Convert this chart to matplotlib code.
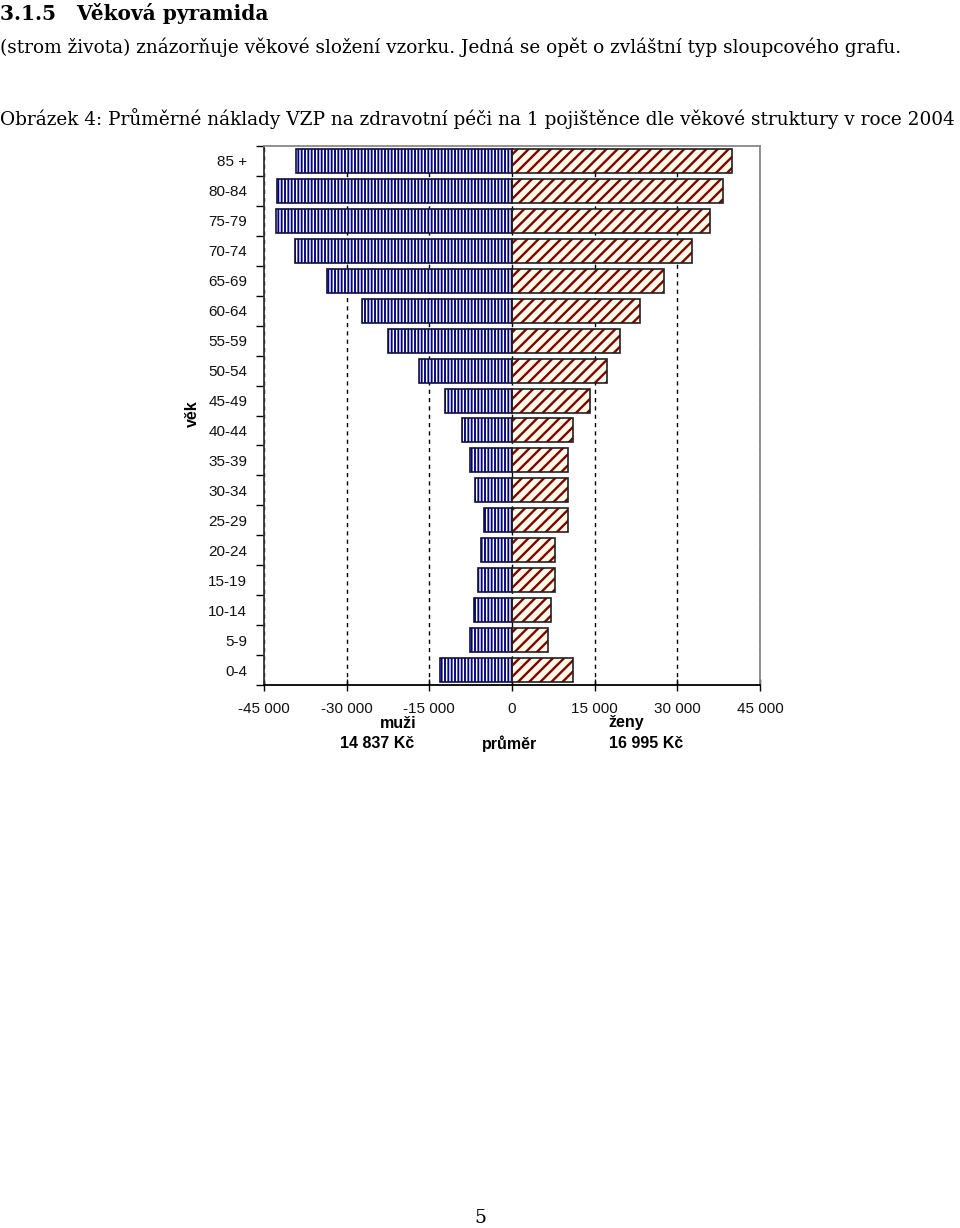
import matplotlib
matplotlib.use("Agg")
import matplotlib.pyplot as plt
from matplotlib.ticker import FixedLocator, FuncFormatter
import numpy as np

# age groups, bottom to top
age_groups = ["0-4", "5-9", "10-14", "15-19", "20-24", "25-29", "30-34", "35-39",
              "40-44", "45-49", "50-54", "55-59", "60-64", "65-69", "70-74",
              "75-79", "80-84", "85 +"]
# average cost per insured person (Kč)
men = [13100, 7600, 6900, 6200, 5600, 5100, 6700, 7600, 9100, 12200,
       16900, 22500, 27300, 33500, 39300, 42900, 42600, 39200]
women = [11100, 6500, 7100, 7800, 7800, 10200, 10200, 10200, 11100, 14200,
         17300, 19600, 23300, 27600, 32700, 36000, 38200, 40000]
x_ticks = [-45000, -30000, -15000, 0, 15000, 30000, 45000]
men_avg = "14 837 Kč"
women_avg = "16 995 Kč"

W, H = 960, 1228
fig = plt.figure(figsize=(W / 100, H / 100), dpi=100)


def px(x, y):
    return x / W, 1 - y / H


serif = ["DejaVu Serif"]
chart_font = ["Liberation Sans", "DejaVu Sans"]

# document text around the chart
fig.text(*px(0, 13), "3.1.5   Věková pyramida", fontsize=14.5, fontweight="bold",
         family=serif, va="center", ha="left")
fig.text(*px(0, 47), "(strom života) znázorňuje věkové složení vzorku. Jedná se opět o zvláštní typ sloupcového grafu.",
         fontsize=13.35, family=serif, va="center", ha="left")
fig.text(*px(0, 119), "Obrázek 4: Průměrné náklady VZP na zdravotní péči na 1 pojištěnce dle věkové struktury v roce 2004",
         fontsize=13.35, family=serif, va="center", ha="left")
fig.text(*px(480, 1218), "5", fontsize=13.5, family=serif, va="center", ha="center")

# chart
left, right, top, bottom = 264, 760, 146, 685
ax = fig.add_axes([left / W, 1 - bottom / H, (right - left) / W, (bottom - top) / H])

y = np.arange(len(age_groups))
neg_men = [-v for v in men]

plt.rcParams["hatch.linewidth"] = 1.35
ax.barh(y, neg_men, height=0.8, color="white", edgecolor="#000080",
        hatch="|||||", linewidth=0, zorder=3)
ax.barh(y, neg_men, height=0.8, color="none", edgecolor="#101040",
        linewidth=1.2, zorder=4)

plt.rcParams["hatch.linewidth"] = 1.7
ax.barh(y, women, height=0.8, color="#FFFBE8", edgecolor="#800000",
        hatch="///", linewidth=0, zorder=3)
ax.barh(y, women, height=0.8, color="none", edgecolor="#202020",
        linewidth=1.2, zorder=4)

ax.set_xlim(-45000, 45000)
ax.set_ylim(-0.5, len(age_groups) - 0.5)

ax.xaxis.set_major_locator(FixedLocator(x_ticks))
ax.xaxis.set_major_formatter(FuncFormatter(lambda v, p: f"{int(v):,}".replace(",", " ")))
ax.grid(axis="x", color="black", linestyle=(0, (3, 3)), linewidth=1, zorder=1)

ax.set_yticks(y)
ax.set_yticklabels(age_groups)
ax.set_yticks(np.arange(len(age_groups) + 1) - 0.5, minor=True)
ax.tick_params(axis="y", which="major", length=0, pad=12)
ax.tick_params(axis="y", which="minor", length=6, width=1, direction="out")
ax.tick_params(axis="x", length=8, width=1, direction="inout", pad=8)

for lab in ax.get_xticklabels() + ax.get_yticklabels():
    lab.set_family(chart_font)
    lab.set_fontsize(11)
    lab.set_color("#111111")

ax.spines["left"].set_color("#333333")
ax.spines["bottom"].set_color("black")
ax.spines["top"].set_color("#888888")
ax.spines["right"].set_color("#888888")
for s in ax.spines.values():
    s.set_linewidth(1.3)

# axis captions
fig.text(*px(192, 414), "věk", rotation=90, fontsize=11.5, fontweight="bold",
         family=chart_font, ha="center", va="center")
fig.text(*px(398, 723), "muži", fontsize=11.5, fontweight="bold",
         family=chart_font, ha="center", va="center")
fig.text(*px(377, 744), men_avg, fontsize=11.5, fontweight="bold",
         family=chart_font, ha="center", va="center")
fig.text(*px(510, 744), "průměr", fontsize=11.5, fontweight="bold",
         family=chart_font, ha="center", va="center")
fig.text(*px(626, 723), "ženy", fontsize=11.5, fontweight="bold",
         family=chart_font, ha="center", va="center")
fig.text(*px(646, 744), women_avg, fontsize=11.5, fontweight="bold",
         family=chart_font, ha="center", va="center")

fig.savefig("out.png", dpi=100, facecolor="white")
